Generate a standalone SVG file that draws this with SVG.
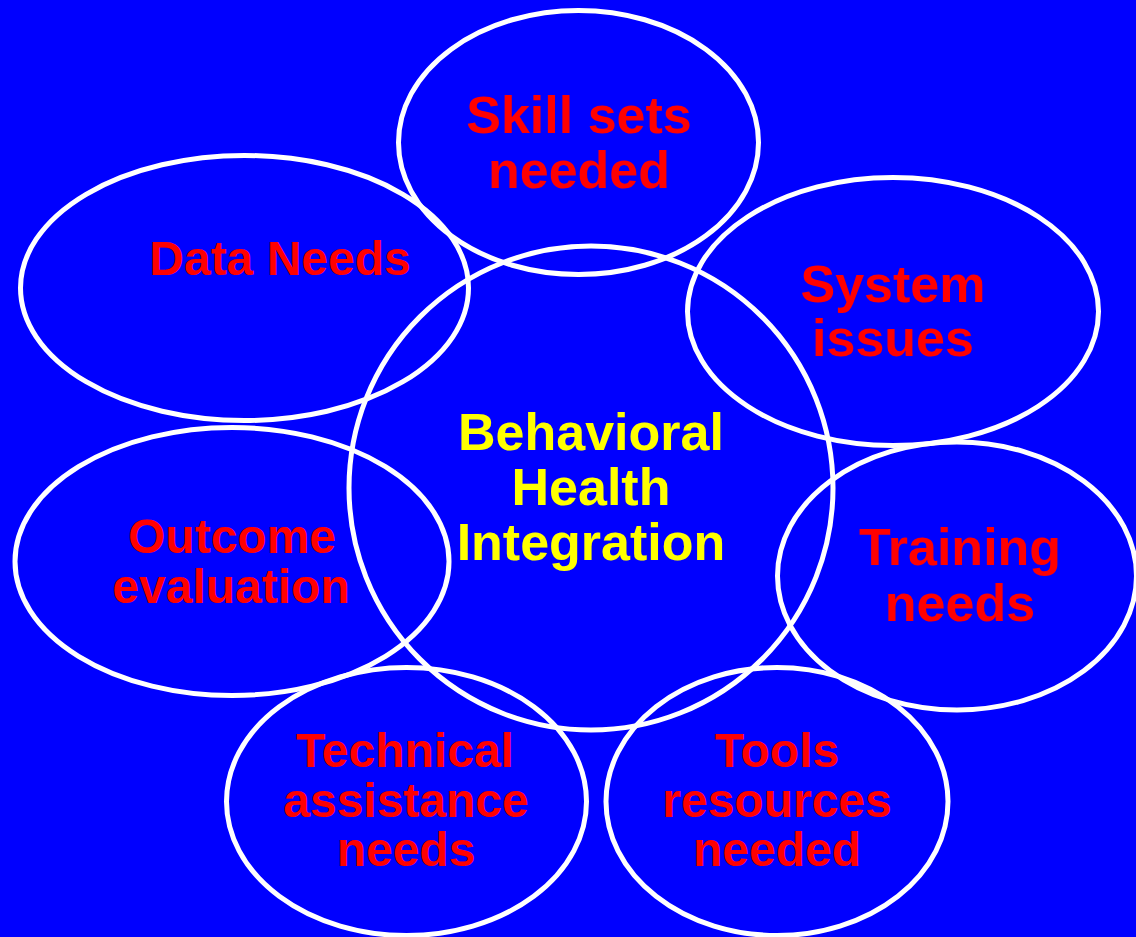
<svg xmlns="http://www.w3.org/2000/svg" width="1136" height="937" viewBox="0 0 1136 937">
<style>
.bub{fill:none;stroke:#ffffff;stroke-width:5}
.t{font-family:"Liberation Sans",Arial,sans-serif;font-weight:bold;fill:#ff0000;text-anchor:middle}
.c{font-family:"Liberation Sans",Arial,sans-serif;font-weight:bold;fill:#ffff00;text-anchor:middle;font-size:52px}
</style>
<rect x="0" y="0" width="1136" height="937" fill="#0000ff"/>
<g id="skill">
<ellipse class="bub" cx="578.5" cy="142.5" rx="180" ry="132"/>
<text class="t" font-size="52" x="579" y="133">Skill sets</text>
<text class="t" font-size="52" x="579" y="188">needed</text>
</g>
<g id="data">
<ellipse class="bub" cx="244.5" cy="288" rx="224" ry="132.5"/>
<text class="t" font-size="48" x="280" y="275">Data Needs</text>
</g>
<g id="system">
<ellipse class="bub" cx="893" cy="311.5" rx="205.5" ry="134"/>
<text class="t" font-size="52" x="893" y="302">System</text>
<text class="t" font-size="52" x="893" y="356">issues</text>
</g>
<g id="center">
<circle class="bub" cx="591" cy="488" r="242"/>
<text class="c" x="591" y="450">Behavioral</text>
<text class="c" x="591" y="505">Health</text>
<text class="c" x="591" y="560">Integration</text>
</g>
<g id="outcome">
<ellipse class="bub" cx="232" cy="561.5" rx="217" ry="134"/>
<text class="t" font-size="48" x="232" y="553">Outcome</text>
<text class="t" font-size="48" x="231" y="603">evaluation</text>
</g>
<g id="training">
<ellipse class="bub" cx="957" cy="576" rx="179.5" ry="134"/>
<text class="t" font-size="52" x="960" y="565">Training</text>
<text class="t" font-size="52" x="960" y="621">needs</text>
</g>
<g id="technical">
<ellipse class="bub" cx="406.5" cy="801.5" rx="180" ry="134"/>
<text class="t" font-size="48" x="405" y="767">Technical</text>
<text class="t" font-size="48" x="406" y="817">assistance</text>
<text class="t" font-size="48" x="406" y="866">needs</text>
</g>
<g id="tools">
<ellipse class="bub" cx="777" cy="801.5" rx="171" ry="134"/>
<text class="t" font-size="48" x="777" y="767">Tools</text>
<text class="t" font-size="48" x="777" y="817">resources</text>
<text class="t" font-size="48" x="777" y="866">needed</text>
</g>
<g id="connectors"></g>
</svg>
